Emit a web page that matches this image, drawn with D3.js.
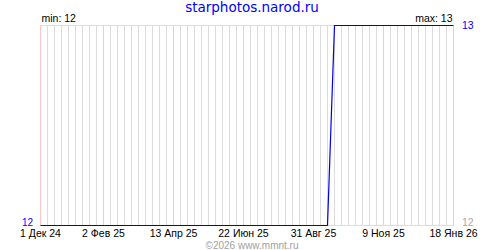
<!DOCTYPE html>
<html>
<head>
<meta charset="utf-8">
<script src="https://cdn.jsdelivr.net/npm/d3@7"></script>
<style>
  body { margin: 0; background: #fff; }
  svg { display: block; }
</style>
</head>
<body>
<svg id="chart"></svg>
<script>
// data
const title = "starphotos.narod.ru";
const credit = "©2026 www.mmnt.ru";
const pointDates = ["2024-12-01", "2025-09-14", "2025-09-21", "2026-01-18"];
const pointValues = [12, 12, 13, 13];
const tickDates = ["2024-12-01", "2025-02-02", "2025-04-13", "2025-06-22", "2025-08-31", "2025-11-09", "2026-01-18"];
const tickLabels = ["1 Дек 24", "2 Фев 25", "13 Апр 25", "22 Июн 25", "31 Авг 25", "9 Ноя 25", "18 Янв 26"];

const width = 500, height = 250;
const margin = { top: 25, right: 47, bottom: 25, left: 40 };
const parse = d3.utcParse("%Y-%m-%d");

const data = pointDates.map((d, i) => ({ date: parse(d), value: pointValues[i] }));
const ticks = tickDates.map(parse);

const x = d3.scaleUtc(
  [ticks[0], ticks[ticks.length - 1]],
  [margin.left + 0.5, width - margin.right + 0.5],
);
const y = d3.scaleLinear(
  d3.extent(pointValues),
  [height - margin.bottom + 0.5, margin.top + 0.5],
);

const svg = d3.select("#chart")
  .attr("width", width)
  .attr("height", height)
  .attr("viewBox", [0, 0, width, height])
  .style("font-family", "'Liberation Sans', Arial, sans-serif");

// weekly grid lines
const weeks = d3.utcSunday.range(ticks[0], d3.utcDay.offset(ticks[ticks.length - 1], 1));
svg.append("g")
  .selectAll("line")
  .data(weeks)
  .join("line")
  .attr("x1", (d) => x(d))
  .attr("x2", (d) => x(d))
  .attr("y1", y(13))
  .attr("y2", y(12))
  .attr("stroke", "#dcdcdc");

// top and bottom lines
svg.append("g")
  .selectAll("line")
  .data([12, 13])
  .join("line")
  .attr("x1", x.range()[0])
  .attr("x2", x.range()[1])
  .attr("y1", (d) => y(d))
  .attr("y2", (d) => y(d))
  .attr("stroke", "#dcdcdc");

// labelled ticks in pink
svg.append("g")
  .selectAll("line")
  .data(ticks)
  .join("line")
  .attr("x1", (d) => x(d))
  .attr("x2", (d) => x(d))
  .attr("y1", y(13))
  .attr("y2", y(12))
  .attr("stroke", "#ffc4c4");

// x axis labels
svg.append("g")
  .selectAll("text")
  .data(ticks)
  .join("text")
  .attr("x", (d) => x(d))
  .attr("y", 236.5)
  .attr("text-anchor", "middle")
  .attr("font-size", 10.5)
  .attr("fill", "#000")
  .text((d, i) => tickLabels[i]);

// the series
const line = d3.line()
  .x((d) => x(d.date))
  .y((d) => y(d.value));

svg.append("path")
  .attr("fill", "none")
  .attr("stroke", "#0000e6")
  .attr("stroke-width", 1.2)
  .attr("d", line(data));

// title
svg.append("text")
  .attr("x", 252)
  .attr("y", 12)
  .attr("text-anchor", "middle")
  .attr("font-family", "'DejaVu Sans', Verdana, sans-serif")
  .attr("font-size", 13.5)
  .attr("fill", "#0000ff")
  .text(title);

// min / max
const minV = d3.min(pointValues), maxV = d3.max(pointValues);
svg.append("text")
  .attr("x", x.range()[0] + 1)
  .attr("y", 22)
  .attr("font-size", 10.5)
  .text(`min: ${minV}`);
svg.append("text")
  .attr("x", x.range()[1] - 1)
  .attr("y", 22)
  .attr("text-anchor", "end")
  .attr("font-size", 10.5)
  .text(`max: ${maxV}`);

// value labels
svg.append("text")
  .attr("x", 33)
  .attr("y", y(minV))
  .attr("text-anchor", "end")
  .attr("font-size", 10)
  .attr("fill", "#0000ff")
  .text(data[0].value);
svg.append("text")
  .attr("x", 462)
  .attr("y", y(maxV) + 3.5)
  .attr("font-size", 10.5)
  .attr("fill", "#0000ff")
  .text(data[data.length - 1].value);
svg.append("text")
  .attr("x", 462)
  .attr("y", y(minV) + 0.5)
  .attr("font-size", 10.5)
  .attr("fill", "#aaaaaa")
  .text(minV);

// credit
svg.append("text")
  .attr("x", 252)
  .attr("y", 248.5)
  .attr("text-anchor", "middle")
  .attr("font-size", 10)
  .attr("fill", "#a0a0a0")
  .text(credit);
</script>
</body>
</html>
